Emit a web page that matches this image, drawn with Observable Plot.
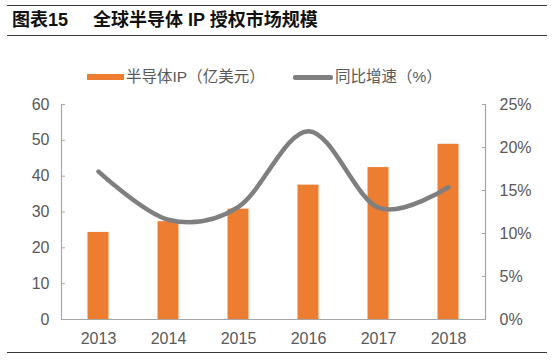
<!DOCTYPE html>
<html>
<head>
<meta charset="utf-8">
<script src="https://cdn.jsdelivr.net/npm/d3@7"></script>
<script src="https://cdn.jsdelivr.net/npm/@observablehq/plot@0.6"></script>
<style>
  html, body { margin: 0; padding: 0; background: #fff; }
  #page { position: relative; width: 554px; height: 360px; overflow: hidden; font-family: "Liberation Sans", Arial, "Noto Sans CJK SC", sans-serif; }
  #title { position: absolute; left: 7px; top: 5px; width: 540px; height: 29px; border-top: 1.4px solid #3a3a3a; border-bottom: 1.4px solid #3a3a3a; }
  #title span { position: absolute; top: 3px; font-family: "Liberation Sans", "Noto Sans CJK SC", sans-serif; font-weight: bold; font-size: 18px; color: #111; line-height: 22px; }
  #legend { position: absolute; top: 67px; left: 0; width: 554px; height: 20px; font-family: "Liberation Sans", "Noto Sans CJK SC", sans-serif; font-size: 15.5px; color: #595959; }
  #legend .item { position: absolute; top: 0; line-height: 20px; white-space: nowrap; }
  #legend .sw { position: absolute; }
  #chart { position: absolute; left: 0; top: 0; }
  #footline { position: absolute; left: 7px; top: 352px; width: 540px; height: 0; border-top: 1.6px solid #3a3a3a; }
</style>
</head>
<body>
<div id="page">
  <div id="chart"></div>
  <div id="title"><span style="left:5px">图表15</span><span style="left:86px">全球半导体 IP 授权市场规模</span></div>
  <div id="legend">
    <div class="sw" style="left:87px; top:7px; width:37px; height:6px; background:#ED7D31"></div>
    <div class="item" style="left:126px">半导体IP（亿美元）</div>
    <div class="sw" style="left:293px; top:8px; width:40px; height:4.5px; border-radius:2px; background:#7F7F7F"></div>
    <div class="item" style="left:335px">同比增速（%）</div>
  </div>
  <div id="footline"></div>
</div>
<script>
const years = ["2013", "2014", "2015", "2016", "2017", "2018"];
const ipMarket = [24.3, 27.3, 30.8, 37.5, 42.4, 48.9];      // 亿美元
const growthPct = [17.2, 11.6, 13.1, 21.9, 13.0, 15.4];     // %
const leftTicks = [0, 10, 20, 30, 40, 50, 60];
const rightTicks = [0, 5, 10, 15, 20, 25];

const pctToLeft = 60 / 25;
const rows = years.map((y, i) => ({year: y, value: ipMarket[i], pct: growthPct[i], pctScaled: growthPct[i] * pctToLeft}));

const textColor = "#595959";
const axisColor = "#A6A6A6";

const chart = Plot.plot({
  width: 554,
  height: 360,
  marginLeft: 61,
  marginRight: 69,
  marginTop: 104,
  marginBottom: 41,
  style: {fontFamily: "'Liberation Sans', Arial, sans-serif", fontSize: "16px", color: textColor, background: "transparent"},
  x: {type: "band", domain: years, padding: 0, label: null},
  y: {domain: [0, 60], label: null},
  marks: [
    Plot.barY(rows, {x: "year", y: "value", fill: "#ED7D31", insetLeft: 24.5, insetRight: 24.5}),
    Plot.line(rows, {x: "year", y: "pctScaled", stroke: "#7F7F7F", strokeWidth: 4.5, curve: "cardinal", tension: 0, strokeLinecap: "round"}),
    // left axis
    Plot.axisY({anchor: "left", ticks: leftTicks, tickSize: 0, tickPadding: 12, fill: textColor, label: null, fontSize: 16}),
    Plot.axisY({anchor: "left", ticks: leftTicks, tickSize: -4, text: null, stroke: axisColor, label: null}),
    // right axis
    Plot.axisY({anchor: "right", ticks: rightTicks.map(d => d * pctToLeft), tickFormat: d => Math.round(d / pctToLeft) + "%", tickSize: 0, tickPadding: 14, fill: textColor, label: null, fontSize: 16}),
    Plot.axisY({anchor: "right", ticks: rightTicks.map(d => d * pctToLeft), tickSize: -4, text: null, stroke: axisColor, label: null}),
    // x axis
    Plot.axisX({ticks: years, tickSize: 0, tickPadding: 13, fill: textColor, label: null, fontSize: 16}),
    Plot.frame({anchor: "bottom", stroke: axisColor, strokeWidth: 1.2}),
    Plot.frame({anchor: "left", stroke: axisColor, strokeWidth: 1.2}),
    Plot.frame({anchor: "right", stroke: axisColor, strokeWidth: 1.2})
  ]
});
document.getElementById("chart").appendChild(chart);
</script>
</body>
</html>
